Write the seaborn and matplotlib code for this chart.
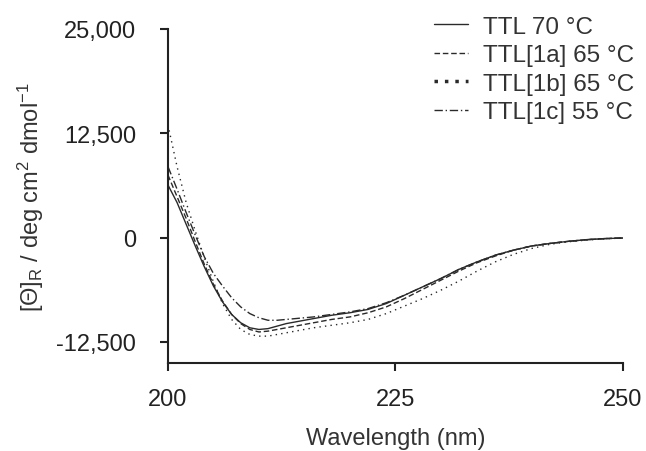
import numpy as np
import pandas as pd
import seaborn as sns
import matplotlib
matplotlib.use("Agg")
import matplotlib.pyplot as plt

# wavelength grid (nm)
wavelength = [200, 201, 202, 203, 204, 205, 206, 207, 208, 209, 210, 211, 212, 213, 214,
              216, 218, 220, 222, 224, 226, 228, 230, 232, 234, 236, 238, 240, 242, 244,
              246, 248, 250]

ttl_70 = [6300, 4200, 1600, -1000, -3500, -5800, -7700, -9200, -10200, -10800, -11000,
          -10900, -10600, -10300, -10100, -9700, -9300, -9000, -8600, -7900, -6900, -5900,
          -4900, -3800, -2900, -2100, -1500, -1000, -700, -450, -250, -120, -50]
ttl_1a = [7500, 4900, 2300, -500, -3200, -5600, -7600, -9200, -10300, -11000, -11300,
          -11200, -11000, -10800, -10600, -10200, -9800, -9500, -9000, -8300, -7300, -6200,
          -5100, -4000, -3000, -2200, -1500, -1000, -700, -450, -250, -120, -50]
ttl_1b = [13500, 8500, 4200, 800, -2400, -5300, -7900, -9800, -11000, -11600, -11800,
          -11800, -11600, -11400, -11200, -10800, -10500, -10200, -9800, -9100, -8200, -7300,
          -6300, -5200, -4000, -2900, -2000, -1300, -800, -500, -300, -150, -50]
ttl_1c = [8500, 5800, 3000, 300, -2300, -4300, -5800, -7200, -8300, -9100, -9600,
          -9900, -9900, -9800, -9700, -9500, -9200, -8900, -8500, -7800, -6900, -5900,
          -4900, -3800, -2900, -2100, -1500, -1000, -700, -450, -250, -120, -50]

labels = ["TTL 70 °C", "TTL[1a] 65 °C", "TTL[1b] 65 °C", "TTL[1c] 55 °C"]
yticks = [-12500, 0, 12500, 25000]
ytick_labels = ["-12,500", "0", "12,500", "25,000"]

sns.set_style("ticks")
plt.rcParams["font.family"] = ["Liberation Sans", "DejaVu Sans"]
plt.rcParams["mathtext.fontset"] = "custom"
plt.rcParams["mathtext.rm"] = "Liberation Sans"
plt.rcParams["mathtext.it"] = "Liberation Sans:italic"

frames = []
for lab, vals in zip(labels, [ttl_70, ttl_1a, ttl_1b, ttl_1c]):
    frames.append(pd.DataFrame({"wl": wavelength, "theta": vals, "series": lab}))
df = pd.concat(frames, ignore_index=True)

fig = plt.figure(figsize=(6.46, 4.52), dpi=100)
ax = fig.add_axes([0.260, 0.195, 0.704, 0.739])

dash_map = {labels[0]: "", labels[1]: (4, 2), labels[2]: (1, 3), labels[3]: (6, 2, 1, 2)}
sns.lineplot(data=df, x="wl", y="theta", style="series", style_order=labels,
             dashes=dash_map, color="#2a2a2a", linewidth=1.0, ax=ax)

ax.set_xlim(200, 250)
ax.set_ylim(-15000, 25000)
ax.set_xticks([200, 225, 250])
ax.set_yticks(yticks)
ax.set_yticklabels(ytick_labels)
ax.tick_params(labelsize=17, width=1.5, length=6, colors="#222222")
ax.tick_params(axis="y", pad=17)
ax.tick_params(axis="x", pad=12)
for s in ["left", "bottom"]:
    ax.spines[s].set_linewidth(1.5)
    ax.spines[s].set_color("#222222")
sns.despine(ax=ax)

ax.set_xlabel("Wavelength (nm)", fontsize=17, color="#333333", labelpad=12)
ax.set_ylabel("[Θ]$_\\mathrm{R}$ / deg cm$^2$ dmol$^{-1}$", fontsize=17,
              color="#333333", labelpad=7)

handles, labs = ax.get_legend_handles_labels()
ax.get_legend().remove()
for h in handles:
    if h.get_label() == labels[2]:
        h.set_linewidth(2.5)
        h.set_dashes((1, 2))
leg = fig.legend(handles, labs, loc="upper right", bbox_to_anchor=(1.0, 0.99),
                 frameon=False, fontsize=17.5, handlelength=1.4, handletextpad=0.6,
                 labelspacing=0.27, borderaxespad=0.1)
for t in leg.get_texts():
    t.set_color("#333333")

fig.savefig("out.png", dpi=100)
